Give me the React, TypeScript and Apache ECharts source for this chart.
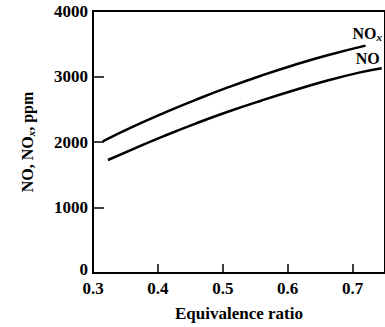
import React, { useEffect, useRef } from "react";
import * as echarts from "echarts";

const noxX = [0.315, 0.36, 0.41, 0.46, 0.51, 0.56, 0.61, 0.66, 0.72];
const noxY = [2010, 2226, 2446, 2651, 2841, 3016, 3176, 3321, 3471];
const noX = [0.323, 0.36, 0.41, 0.46, 0.51, 0.56, 0.61, 0.66, 0.71, 0.745];
const noY = [1725, 1884, 2094, 2289, 2469, 2634, 2789, 2934, 3059, 3126];
const curveLabels = ["{a|NO}{s|x}", "{a|NO}"];
const labelAnchors: [number, number][] = [
  [0.7, 3664],
  [0.705, 3275],
];

const FONT = "'Liberation Serif', 'DejaVu Serif', serif";

export default function App() {
  const ref = useRef<HTMLDivElement>(null);
  useEffect(() => {
    document.body.style.margin = "0";
    if (!ref.current) return;
    const chart = echarts.init(ref.current, null, { renderer: "svg" });
    const pairs = (xs: number[], ys: number[]) => xs.map((x, i) => [x, ys[i]]);
    const textStyle = { fontFamily: FONT, fontSize: 17, fontWeight: "bold" as const, color: "#000" };
    const rich = {
      a: { ...textStyle, fontSize: 16 },
      s: { ...textStyle, fontSize: 11, fontStyle: "italic", padding: [7, 0, 0, 0] },
    };
    const mkLabel = (i: number) => ({
      symbol: "circle",
      symbolSize: 0,
      silent: true,
      label: {
        show: true,
        position: [0, 0],
        align: "left",
        verticalAlign: "middle",
        formatter: curveLabels[i],
        rich,
      },
      data: [{ coord: labelAnchors[i] }],
    });
    chart.setOption({
      animation: false,
      backgroundColor: "#fff",
      grid: {
        left: 93,
        top: 11,
        right: -3,
        bottom: 54,
        show: true,
        borderColor: "#000",
        borderWidth: 2,
      },
      xAxis: {
        type: "value",
        min: 0.3,
        max: 0.75,
        interval: 0.1,
        name: "Equivalence ratio",
        nameLocation: "middle",
        nameGap: 32,
        nameTextStyle: { ...textStyle },
        axisLine: { show: true, lineStyle: { color: "#000", width: 2 } },
        axisTick: { show: true, inside: true, length: 9, lineStyle: { color: "#000", width: 1.5 } },
        axisLabel: {
          ...textStyle,
          margin: 7,
          showMaxLabel: false,
          formatter: (v: number) => v.toFixed(1),
        },
        splitLine: { show: false },
      },
      yAxis: {
        type: "value",
        min: 0,
        max: 4000,
        interval: 1000,
        name: "{a|NO, NO}{s|x}{a|, ppm}",
        nameLocation: "middle",
        nameGap: 57,
        nameRotate: 90,
        nameTextStyle: { rich },
        axisLine: { show: true, lineStyle: { color: "#000", width: 2 } },
        axisTick: { show: true, inside: true, length: 11, lineStyle: { color: "#000", width: 1.5 } },
        axisLabel: {
          ...textStyle,
          margin: 5,
          formatter: (v: number) => (v === 0 ? "{z|0}" : String(v)),
          rich: { z: { ...textStyle, padding: [0, 0, 7, 0] } },
        },
        splitLine: { show: false },
      },
      series: [
        {
          type: "line",
          data: pairs(noxX, noxY),
          smooth: 0.5,
          symbol: "none",
          lineStyle: { color: "#000", width: 2.5 },
          markPoint: mkLabel(0),
        },
        {
          type: "line",
          data: pairs(noX, noY),
          smooth: 0.5,
          symbol: "none",
          lineStyle: { color: "#000", width: 2.5 },
          markPoint: mkLabel(1),
        },
      ],
    });
    return () => chart.dispose();
  }, []);
  return <div ref={ref} style={{ width: 385, height: 327 }} />;
}
